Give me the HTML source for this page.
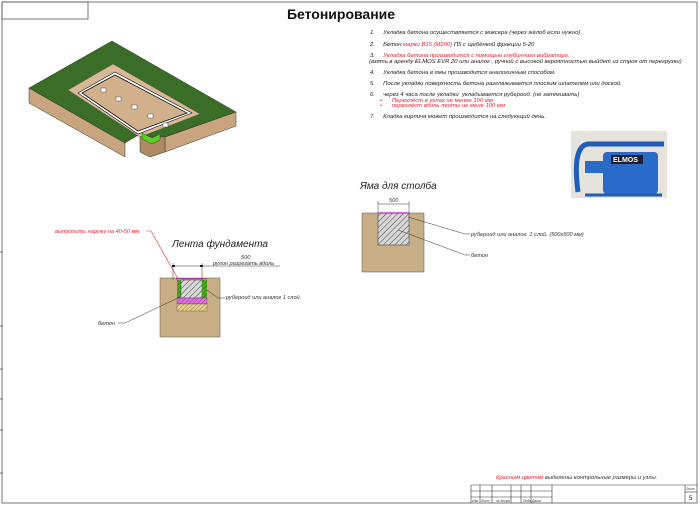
<!DOCTYPE html>
<html><head><meta charset="utf-8"><style>
html,body{margin:0;padding:0;background:#fff;}
svg{display:block;font-family:"Liberation Sans",sans-serif;}
.t{font-size:5.9px;font-style:italic;fill:#222}
.r{fill:#e8202a}
</style></head><body>
<svg width="700" height="505" viewBox="0 0 700 505" xmlns="http://www.w3.org/2000/svg">
<defs>
<pattern id="h" width="4" height="4" patternUnits="userSpaceOnUse" patternTransform="rotate(45)">
<rect width="4" height="4" fill="#d8d8d8"/><line x1="0" y1="0" x2="0" y2="4" stroke="#444" stroke-width="1"/></pattern>
<pattern id="m" width="3" height="3" patternUnits="userSpaceOnUse" patternTransform="rotate(45)">
<rect width="3" height="3" fill="#e070e0"/><line x1="0" y1="0" x2="0" y2="3" stroke="#903090" stroke-width=".8"/></pattern>
<pattern id="y" width="3" height="3" patternUnits="userSpaceOnUse" patternTransform="rotate(45)">
<rect width="3" height="3" fill="#e8d090"/><line x1="0" y1="0" x2="0" y2="3" stroke="#806020" stroke-width=".8"/></pattern>
<pattern id="g" width="3" height="3" patternUnits="userSpaceOnUse" patternTransform="rotate(45)">
<rect width="3" height="3" fill="#4caa20"/><line x1="0" y1="0" x2="0" y2="3" stroke="#1e5010" stroke-width=".8"/></pattern>
</defs>
<rect x="2" y="2" width="695" height="501" fill="none" stroke="#777" stroke-width="1"/>
<rect x="2" y="2" width="86" height="17" fill="none" stroke="#555" stroke-width=".8"/>
<g stroke="#777" stroke-width="1"><line x1="0" y1="252" x2="3" y2="252"/><line x1="0" y1="326" x2="3" y2="326"/><line x1="0" y1="369" x2="3" y2="369"/><line x1="0" y1="399" x2="3" y2="399"/><line x1="0" y1="430" x2="3" y2="430"/><line x1="0" y1="473" x2="3" y2="473"/></g>
<text x="341" y="19" font-size="14" font-weight="bold" text-anchor="middle" fill="#111">Бетонирование</text>

<polygon points="29,88 29,103 125,157 125,143" fill="#c9a57f" stroke="#333" stroke-width=".5"/>
<polygon points="165,137 165,152 236,126 236,112" fill="#c9a57f" stroke="#333" stroke-width=".5"/>
<polygon points="140,134 140,152 150,157 165,152 165,137" fill="#b08a62" stroke="#333" stroke-width=".5"/>
<polygon points="29,88 112,41 236,112 165,137 152,137 140,134 125,143" fill="#3a6e26" stroke="#333" stroke-width=".5"/>
<polygon points="68,90 113,64 200,114 140,137" fill="#d9b896" stroke="#555" stroke-width=".5"/>
<polygon points="78,93 115,72 192,113 138,134" fill="#fff" stroke="#111" stroke-width=".6"/>
<polygon points="82,93 115,75 187,113 138,131" fill="#d2b08c" stroke="#111" stroke-width=".8"/>
<polygon points="142,133 152,138 160,134 160,140 152,144 142,139" fill="#5cd020" stroke="#222" stroke-width=".4"/>
<g fill="#fff" stroke="#333" stroke-width=".4">
<rect x="101" y="88" width="5" height="4"/><rect x="116" y="97" width="5" height="4"/><rect x="132" y="105" width="5" height="4"/><rect x="148" y="114" width="5" height="4"/><rect x="163" y="123" width="5" height="4"/></g>

<g class="t">
<text x="370" y="34">1.&#160;&#160;&#160;&#160;&#160;Укладка бетона осуществляется с миксера (через жёлоб если нужно)</text>
<text x="370" y="46">2.&#160;&#160;&#160;&#160;&#160;Бетон <tspan class="r">марки В15 (М200)</tspan> П5 с щебёнкой фракции 5-20</text>
<text x="370" y="57">3.&#160;&#160;&#160;&#160;&#160;<tspan class="r">Укладка бетона производится с помощью глубинного вибратора.</tspan></text>
<text x="369" y="63">(взять в аренду ELMOS EVR 20 или аналог , ручной с высокой вероятностью выйдет из строя от перегрузки)</text>
<text x="370" y="74">4.&#160;&#160;&#160;&#160;&#160;Укладка бетона в ямы производится аналогичным способом.</text>
<text x="370" y="85">5.&#160;&#160;&#160;&#160;&#160;После укладки поверхность бетона разглаживается плоским шпателем или доской.</text>
<text x="370" y="96">6.&#160;&#160;&#160;&#160;&#160;через 4 часа после укладки&#160; укладывается рубероид. (не затягивать)</text>
<text x="380" y="102" class="r">•&#160;&#160;&#160;&#160;&#160;&#160;Перехлёст в углах не менее 100 мм</text>
<text x="380" y="107" class="r">•&#160;&#160;&#160;&#160;&#160;&#160;перехлёст вдоль ленты не мене 100 мм</text>
<text x="370" y="118">7.&#160;&#160;&#160;&#160;&#160;Кладка кирпича может производится на следующий день.</text>
</g>

<rect x="571" y="131" width="96" height="67" fill="#e6e2dc"/>
<path d="M578,192 Q572,146 588,144 L664,144" fill="none" stroke="#1f5fb8" stroke-width="5"/>
<rect x="603" y="152" width="55" height="42" rx="4" fill="#2a6ac8"/>
<rect x="585" y="161" width="20" height="12" fill="#2a6ac8"/>
<rect x="611" y="155" width="32" height="9" fill="#1a2030"/>
<text x="613" y="162" font-size="7" font-weight="bold" fill="#fff">ELMOS</text>
<path d="M585,195 L662,195" stroke="#1f5fb8" stroke-width="3"/>

<text x="172" y="247" font-size="10" font-style="italic" fill="#222">Лента фундамента</text>
<rect x="160" y="278" width="60" height="59" fill="#c8ae84" stroke="#555" stroke-width=".5"/>
<rect x="177" y="279" width="30" height="32" fill="#fff"/>
<rect x="177" y="280" width="4" height="18" fill="url(#g)"/>
<rect x="181" y="280" width="21" height="18" fill="url(#h)" stroke="#333" stroke-width=".4"/>
<rect x="202" y="280" width="5" height="18" fill="url(#g)"/>
<rect x="177" y="298" width="30" height="6" fill="url(#m)" stroke="#333" stroke-width=".3"/>
<rect x="177" y="304" width="30" height="7" fill="url(#y)" stroke="#333" stroke-width=".3"/>
<line x1="176" y1="279" x2="207" y2="279" stroke="#c020c0" stroke-width="1.2"/>
<g stroke="#333" stroke-width=".5"><line x1="173" y1="266" x2="280" y2="266"/><line x1="173" y1="263" x2="173" y2="280"/><line x1="202" y1="263" x2="202" y2="280"/></g>
<rect x="172" y="265" width="3" height="2" fill="#222"/><rect x="200" y="265" width="3" height="2" fill="#222"/>
<text x="241" y="259" font-size="5.6" font-style="italic" fill="#333">500</text>
<text x="213" y="265" font-size="5.6" font-style="italic" fill="#333">рулон разрезать вдоль</text>
<text x="55" y="233" font-size="5.6" font-style="italic" class="r">выпустить наружу на 40-50 мм</text>
<polyline points="146,231 151,231 178,279" fill="none" stroke="#e8202a" stroke-width=".6"/>
<polyline points="207,290 218,298 225,298" fill="none" stroke="#333" stroke-width=".5"/>
<text x="226" y="299" font-size="5.6" font-style="italic" fill="#333">рубероид или аналог 1 слой.</text>
<polyline points="118,323 125,323 180,297" fill="none" stroke="#333" stroke-width=".5"/>
<text x="98" y="325" font-size="5.6" font-style="italic" fill="#333">бетон</text>

<text x="360" y="189" font-size="10" font-style="italic" fill="#222">Яма для столба</text>
<rect x="362" y="213" width="62" height="59" fill="#c8ae84" stroke="#555" stroke-width=".5"/>
<rect x="378" y="213" width="31" height="32" fill="url(#h)" stroke="#333" stroke-width=".5"/>
<line x1="378" y1="213" x2="409" y2="213" stroke="#c020c0" stroke-width="1.2"/>
<g stroke="#333" stroke-width=".5"><line x1="378" y1="204" x2="409" y2="204"/><line x1="378" y1="201" x2="378" y2="213"/><line x1="409" y1="201" x2="409" y2="213"/></g>
<text x="389" y="202" font-size="5.6" font-style="italic" fill="#333">500</text>
<polyline points="408,217 465,234 470,234" fill="none" stroke="#333" stroke-width=".5"/>
<text x="471" y="236" font-size="5.6" font-style="italic" fill="#333">рубероид или аналог. 1 слой. (500х500 мм)</text>
<polyline points="398,230 465,255 470,255" fill="none" stroke="#333" stroke-width=".5"/>
<text x="471" y="257" font-size="5.6" font-style="italic" fill="#333">бетон</text>

<text x="496" y="479" font-size="5.8" font-style="italic" fill="#333"><tspan class="r">Красным цветом</tspan> выделены контрольные размеры и узлы.</text>
<g stroke="#333" stroke-width=".6" fill="none">
<line x1="471" y1="485" x2="697" y2="485"/>
<line x1="471" y1="491" x2="552" y2="491"/>
<line x1="471" y1="497" x2="552" y2="497"/>
<line x1="685" y1="492" x2="697" y2="492"/>
<line x1="471" y1="485" x2="471" y2="503"/><line x1="480" y1="485" x2="480" y2="503"/><line x1="492" y1="485" x2="492" y2="503"/><line x1="511" y1="485" x2="511" y2="503"/><line x1="521" y1="485" x2="521" y2="503"/><line x1="531" y1="485" x2="531" y2="503"/><line x1="552" y1="485" x2="552" y2="503"/><line x1="685" y1="485" x2="685" y2="503"/>
</g>
<g font-size="3.3" font-style="italic" fill="#333"><text x="472" y="502">Изм</text><text x="481" y="502">Лист</text><text x="496" y="502">№ докум.</text><text x="523" y="502">Подп.</text><text x="532" y="502">Дата</text><text x="686" y="490">Лист</text></g>
<text x="689" y="500" font-size="6" fill="#222">5</text>
</svg>
</body></html>
